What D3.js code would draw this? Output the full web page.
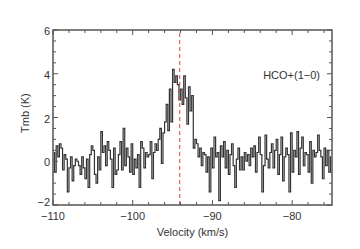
<!DOCTYPE html>
<html><head><meta charset="utf-8">
<script src="https://cdn.jsdelivr.net/npm/d3@7"></script>
<style>body{margin:0;background:#fff}svg{display:block}text{font-family:"Liberation Sans",Arial,sans-serif;fill:#333}</style>
</head><body><svg id="c" width="360" height="249"></svg>
<script>
const vStart = -110, chanWidth = 0.2;
const tmb = [
 0.4,-0.5,0.7,0.2,0.8,
 0.6,-0.4,0.3,0.1,-1.4,
 -0.3,0.2,-0.9,-0.2,0.1,
 0.0,-0.2,-0.6,0.2,-0.3,
 -0.8,0.1,-1.2,0.3,0.7,
 0.5,-0.6,-1.0,0.2,-0.4,
 1.35,0.4,0.7,-0.2,0.9,
 0.5,0.1,-1.2,0.6,-0.6,
 -0.4,0.3,0.9,-0.4,1.5,
 -0.2,0.6,0.2,-0.5,0.8,
 -0.6,0.1,-0.3,0.3,-1.2,
 0.9,0.6,-0.3,0.4,0.2,
 0.3,0.9,-0.8,0.4,0.8,
 0.5,1.0,1.5,-0.1,1.3,
 1.8,2.6,1.4,3.3,1.8,
 4.2,3.6,3.9,3.5,2.8,
 3.3,2.6,3.9,2.9,1.7,
 3.4,2.3,3.0,0.6,1.0,
 0.8,0.2,0.6,-0.2,0.4,
 0.3,-0.5,0.2,-1.4,0.6,
 -0.3,1.1,0.2,0.4,-1.8,
 0.7,0.2,0.9,-0.3,0.5,
 -0.6,0.3,0.8,-0.2,-1.2,
 0.1,0.6,-0.4,0.2,-0.4,
 0.4,0.0,0.3,-0.2,0.6,
 0.2,0.7,-0.5,0.4,1.1,
 0.3,-1.4,-0.2,1.2,0.1,
 -0.3,0.4,0.8,-0.3,0.5,
 1.0,-0.6,0.3,1.1,-0.9,
 0.2,0.6,0.3,-1.4,1.3,
 -0.5,0.5,0.2,1.35,-0.6,
 0.6,1.1,-0.2,0.4,0.3,
 -0.5,0.9,-1.0,0.5,0.2,
 0.4,1.2,0.5,0.2,-0.8,
 0.6,-0.2,0.5,-0.5,0.2
];
const xMajor = [-110,-100,-90,-80];
const yMajor = [-2,0,2,4,6];
const lineVel = -94.1;
const lineLabel = "HCO+(1\u22120)";
const xTitle = "Velocity (km/s)", yTitle = "Tmb (K)";

const L=53,R=332,T=30,B=205;
const svg=d3.select("#c");
const x=d3.scaleLinear().domain([-110,-75]).range([L,R]);
const y=d3.scaleLinear().domain([-2,6]).range([B,T]);
const fmt=d=>String(d).replace("-","\u2212");

svg.append("clipPath").attr("id","cp").append("rect").attr("x",L).attr("y",T).attr("width",R-L).attr("height",B-T);

const pts=tmb.map((v,i)=>({v:vStart+chanWidth*(i+0.5),t:v}));
const line=d3.line().x(d=>x(d.v)).y(d=>y(d.t)).curve(d3.curveStep);
svg.append("path").datum(pts).attr("clip-path","url(#cp)").attr("d",line)
  .attr("fill","none").attr("stroke","#333").attr("stroke-width",1.2);

svg.append("line").attr("x1",x(lineVel)).attr("x2",x(lineVel)).attr("y1",B).attr("y2",T)
  .attr("stroke","#e03c3c").attr("stroke-width",1).attr("stroke-dasharray","4,3");

svg.append("rect").attr("x",L).attr("y",T).attr("width",R-L).attr("height",B-T)
  .attr("fill","none").attr("stroke","#555").attr("stroke-width",1.5);

const xMinor=d3.range(-110,-74.9,2), yMinor=d3.range(-2,6.01,0.5);
const tk=svg.append("g").attr("stroke","#555").attr("stroke-width",1);
xMinor.forEach(v=>{const maj=v%10===0,l=maj?5:3;
  tk.append("line").attr("x1",x(v)).attr("x2",x(v)).attr("y1",B).attr("y2",B-l);
  tk.append("line").attr("x1",x(v)).attr("x2",x(v)).attr("y1",T).attr("y2",T+l);});
yMinor.forEach(v=>{const maj=v%2===0,l=maj?5:3;
  tk.append("line").attr("y1",y(v)).attr("y2",y(v)).attr("x1",L).attr("x2",L+l);
  tk.append("line").attr("y1",y(v)).attr("y2",y(v)).attr("x1",R).attr("x2",R-l);});

svg.append("g").selectAll("text").data(xMajor).join("text")
  .attr("x",d=>x(d)).attr("y",220).attr("text-anchor","middle").attr("font-size",11).text(fmt);
svg.append("g").selectAll("text").data(yMajor).join("text")
  .attr("x",50).attr("y",d=>d===-2?y(d)+1:y(d)+5).attr("text-anchor","end").attr("font-size",11).text(fmt);

svg.append("text").attr("x",x(-92.5)).attr("y",236).attr("text-anchor","middle").attr("font-size",11).text(xTitle);
svg.append("text").attr("transform","translate(29,"+y(2.2)+") rotate(-90)").attr("text-anchor","middle").attr("font-size",11).text(yTitle);
svg.append("text").attr("x",320).attr("y",79).attr("text-anchor","end").attr("font-size",11).text(lineLabel);
</script></body></html>
